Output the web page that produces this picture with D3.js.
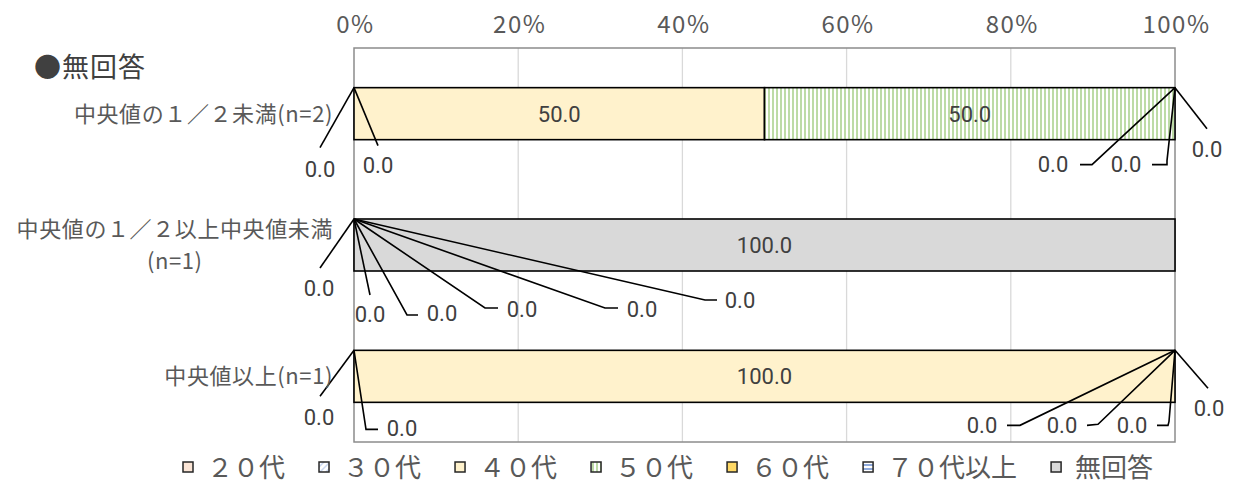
<!DOCTYPE html>
<html><head><meta charset="utf-8">
<script src="https://cdn.jsdelivr.net/npm/d3@7"></script>
<style>body{margin:0;background:#fff}</style>
</head><body><svg id="c" width="1236" height="495"></svg>
<script>
// ---- data ----
const title = "●無回答";
const categories = ["中央値の１／２未満(n=2)", "中央値の１／２以上中央値未満\n(n=1)", "中央値以上(n=1)"];
const seriesNames = ["２０代", "３０代", "４０代", "５０代", "６０代", "７０代以上", "無回答"];
const s20 = [0, 0, 0];
const s30 = [0, 0, 0];
const s40 = [50, 0, 100];
const s50 = [50, 0, 0];
const s60 = [0, 0, 0];
const s70 = [0, 0, 0];
const sNA = [0, 100, 0];
const tickValues = [0, 20, 40, 60, 80, 100];
const seriesValues = [s20, s30, s40, s50, s60, s70, sNA];

// ---- layout for zero-value labels (offsets from segment anchor at bar top) ----
const zeroLabelLayout = {
  "0-0": {t: [-34, 81], p: [[-34, 60]]},
  "0-1": {t: [24, 77], p: [[24, 58]]},
  "0-4": {t: [-122, 76], p: [[-83, 77], [-95, 77]]},
  "0-5": {t: [-49, 76], p: [[-8, 73], [-8, 77], [-23, 77]]},
  "0-6": {t: [32, 61], p: [[32, 41]]},
  "1-0": {t: [-35, 69], p: [[-34, 49]]},
  "1-1": {t: [16, 95], p: [[16, 76]]},
  "1-2": {t: [88, 94], p: [[53, 96], [64, 96]]},
  "1-3": {t: [168, 90], p: [[131, 89], [144, 89]]},
  "1-4": {t: [288, 90], p: [[251, 89], [264, 89]]},
  "1-5": {t: [386, 81], p: [[351, 81], [363, 81]]},
  "2-0": {t: [-35, 67], p: [[-34, 46]]},
  "2-1": {t: [48, 78], p: [[12, 79], [24, 79]]},
  "2-3": {t: [-193, 75], p: [[-155, 75], [-168, 75]]},
  "2-4": {t: [-113, 75], p: [[-77, 74], [-88, 75]]},
  "2-5": {t: [-43, 75], p: [[-6, 71], [-7, 75], [-18, 75]]},
  "2-6": {t: [34, 58], p: [[33, 38]]}
};

const fills = ["#fbe5d6", "url(#p30)", "#fff2cc", "url(#p50)", "#ffd966", "url(#p70)", "#d9d9d9"];
const JP = "'Noto Sans CJK JP','Noto Sans',sans-serif";
const NUM = "Roboto,'Liberation Sans',sans-serif";

const svg = d3.select("#c");
const defs = svg.append("defs");
let p = defs.append("pattern").attr("id", "p50").attr("patternUnits", "userSpaceOnUse").attr("width", 4).attr("height", 4);
p.append("rect").attr("width", 4).attr("height", 4).attr("fill", "#fff");
p.append("rect").attr("width", 2).attr("height", 4).attr("fill", "#bddba6");
p = defs.append("pattern").attr("id", "p70").attr("patternUnits", "userSpaceOnUse").attr("width", 4).attr("height", 4);
p.append("rect").attr("width", 4).attr("height", 4).attr("fill", "#fff");
p.append("rect").attr("width", 4).attr("height", 2).attr("fill", "#8faadc");
p = defs.append("pattern").attr("id", "p30").attr("patternUnits", "userSpaceOnUse").attr("width", 6).attr("height", 6);
p.append("rect").attr("width", 6).attr("height", 6).attr("fill", "#fff");
p.append("path").attr("d", "M0,6L6,0M-1,1L1,-1M5,7L7,5").attr("stroke", "#c9d7f0").attr("stroke-width", 1.5);

const x = d3.scaleLinear().domain([0, 100]).range([354, 1175]);
const y = d3.scaleBand().domain(d3.range(categories.length)).range([48, 442]).paddingInner(0.604).paddingOuter(0.302);

// gridlines
svg.append("g").selectAll("line").data(tickValues.slice(1, -1)).join("line")
  .attr("x1", d => x(d)).attr("x2", d => x(d)).attr("y1", 48).attr("y2", 442)
  .attr("stroke", "#d9d9d9").attr("stroke-width", 1.3);
// frame
svg.append("rect").attr("x", x(0)).attr("y", 48).attr("width", x(100) - x(0)).attr("height", 394)
  .attr("fill", "none").attr("stroke", "#8c8c8c").attr("stroke-width", 1.5);

// top axis tick labels
const axis = d3.axisTop(x).tickValues(tickValues).tickFormat(d => d + "%").tickSize(0);
const ag = svg.append("g").attr("transform", "translate(0,33)").call(axis);
ag.select(".domain").remove();
ag.selectAll("text").attr("font-family", JP).attr("font-size", 24).attr("fill", "#595959")
  .attr("letter-spacing", "1.5px").attr("dy", 0).attr("y", 0).attr("dx", 1);

// title
svg.append("text").attr("x", 34).attr("y", 77).text(title)
  .attr("font-family", JP).attr("font-size", 27).attr("fill", "#404040").attr("letter-spacing", "1px");

// stack
const rows = categories.map((c, i) => {
  let cum = 0;
  return seriesValues.map((s, j) => { const r = {cat: i, ser: j, v: s[i], x0: cum, x1: cum + s[i]}; cum += s[i]; return r; });
});
const segs = rows.flat();

// bars
svg.append("g").selectAll("rect").data(segs.filter(d => d.v > 0)).join("rect")
  .attr("x", d => x(d.x0)).attr("width", d => x(d.x1) - x(d.x0))
  .attr("y", d => y(d.cat)).attr("height", y.bandwidth())
  .attr("fill", d => fills[d.ser]).attr("stroke", "#000").attr("stroke-width", 1.6);

// value labels
svg.append("g").selectAll("text").data(segs.filter(d => d.v > 0)).join("text")
  .attr("x", d => (x(d.x0) + x(d.x1)) / 2).attr("y", d => y(d.cat) + y.bandwidth() / 2)
  .attr("dy", "0.36em").attr("text-anchor", "middle").text(d => d.v.toFixed(1))
  .attr("font-family", NUM).attr("font-size", 22).attr("fill", "#404040");

// zero labels with leaders
const zg = svg.append("g");
segs.filter(d => d.v === 0).forEach(d => {
  const L = zeroLabelLayout[d.cat + "-" + d.ser];
  if (!L) return;
  const ax = x(d.x0), ay = y(d.cat);
  const pts = [[ax, ay]].concat(L.p.map(q => [ax + q[0], ay + q[1]]));
  zg.append("path").attr("d", d3.line()(pts)).attr("fill", "none").attr("stroke", "#000").attr("stroke-width", 1.6);
  zg.append("text").attr("x", ax + L.t[0]).attr("y", ay + L.t[1]).attr("dy", "0.36em")
    .attr("text-anchor", "middle").text(d.v.toFixed(1))
    .attr("font-family", NUM).attr("font-size", 22).attr("fill", "#404040");
});

// category labels
const cg = svg.append("g");
categories.forEach((c, i) => {
  const lines = c.split("\n");
  const cy = y(i) + y.bandwidth() / 2;
  const lh = 32;
  const first = cg.append("text").attr("x", 333).attr("text-anchor", "end")
    .attr("y", cy - (lines.length - 1) * lh / 2).attr("dy", "0.36em").text(lines[0])
    .attr("font-family", JP).attr("font-size", 22).attr("fill", "#595959").attr("letter-spacing", "0.6px");
  if (lines.length > 1) {
    const w = first.node().getComputedTextLength();
    lines.slice(1).forEach((ln, k) => {
      cg.append("text").attr("x", 333 - w / 2).attr("text-anchor", "middle")
        .attr("y", cy - (lines.length - 1) * lh / 2 + (k + 1) * lh).attr("dy", "0.36em").text(ln)
        .attr("font-family", JP).attr("font-size", 22).attr("fill", "#595959").attr("letter-spacing", "0.6px");
    });
  }
});

// legend
const lg = svg.append("g");
let lx = 183;
seriesNames.forEach((n, j) => {
  lg.append("rect").attr("x", lx).attr("y", 462).attr("width", 10).attr("height", 10)
    .attr("fill", fills[j]).attr("stroke", "#262626").attr("stroke-width", 1.5);
  const t = lg.append("text").attr("x", lx + 24).attr("y", 467).attr("dy", "0.37em").text(n)
    .attr("font-family", JP).attr("font-size", 26).attr("fill", "#595959");
  lx += 24 + t.node().getComputedTextLength() + 34;
});
</script></body></html>
